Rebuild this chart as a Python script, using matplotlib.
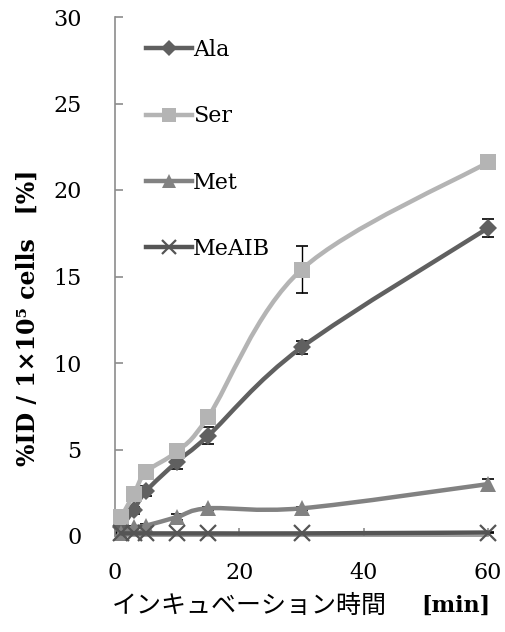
import matplotlib
matplotlib.use("Agg")
import matplotlib.pyplot as plt
from matplotlib.path import Path
from matplotlib.patches import PathPatch
from matplotlib.lines import Line2D
import numpy as np

# incubation time [min]
times = [1, 3, 5, 10, 15, 30, 60]

ala = [0.5, 1.5, 2.6, 4.3, 5.8, 10.9, 17.8]
ala_err = [0.1, 0.2, 0.3, 0.45, 0.5, 0.4, 0.5]
ser = [1.1, 2.4, 3.7, 4.9, 6.9, 15.4, 21.6]
ser_err = [0.1, 0.2, 0.2, 0.3, 0.3, 1.35, 0.3]
met = [0.2, 0.5, 0.6, 1.1, 1.6, 1.6, 3.0]
met_err = [0.05, 0.05, 0.1, 0.2, 0.1, 0.1, 0.3]
meaib = [0.15, 0.15, 0.15, 0.15, 0.15, 0.15, 0.2]
meaib_err = [0.02, 0.02, 0.02, 0.02, 0.02, 0.02, 0.03]

labels = ["Ala", "Ser", "Met", "MeAIB"]
colors = ["#606060", "#b4b4b4", "#828282", "#555555"]
markers = ["D", "s", "^", "x"]
msizes = [9, 11, 11, 11]

SERIF = ["DejaVu Serif", "Noto Sans CJK JP"]
plt.rcParams["font.family"] = SERIF
plt.rcParams["xtick.direction"] = "in"
plt.rcParams["ytick.direction"] = "in"
plt.rcParams["xtick.major.pad"] = 19
plt.rcParams["ytick.major.pad"] = 24


def smooth_path(xs, ys):
    # excel-like smoothed line: bezier segments with catmull-rom controls
    pts = np.column_stack([xs, ys]).astype(float)
    n = len(pts)
    verts = [pts[0]]
    codes = [Path.MOVETO]
    for i in range(n - 1):
        p0 = pts[i - 1] if i > 0 else pts[i]
        p1 = pts[i]
        p2 = pts[i + 1]
        p3 = pts[i + 2] if i + 2 < n else pts[i + 1]
        c1 = p1 + (p2 - p0) / 6.0
        c2 = p2 - (p3 - p1) / 6.0
        verts += [c1, c2, p2]
        codes += [Path.CURVE4] * 3
    return Path(verts, codes)


fig = plt.figure(figsize=(5.05, 6.32), dpi=100)
ax = fig.add_axes([115 / 505, 1 - 536 / 632, 373 / 505, 519 / 632])

series = [(ala, ala_err), (ser, ser_err), (met, met_err), (meaib, meaib_err)]
handles = []
for k, (vals, errs) in enumerate(series):
    z = 3 + k
    ax.errorbar(times, vals, yerr=errs, fmt="none", ecolor="black",
                elinewidth=1.0, capsize=4, capthick=1.2, zorder=2, clip_on=False)
    patch = PathPatch(smooth_path(times, vals), facecolor="none",
                      edgecolor=colors[k], lw=3.2, zorder=z, clip_on=False,
                      capstyle="round", joinstyle="round")
    ax.add_patch(patch)
    if markers[k] == "x":
        ax.plot(times, vals, ls="none", marker="x", ms=msizes[k], mew=1.6,
                color=colors[k], zorder=z, clip_on=False)
    else:
        ax.plot(times, vals, ls="none", marker=markers[k], ms=msizes[k],
                mew=0, color=colors[k], zorder=z, clip_on=False)
    handles.append(Line2D([], [], color=colors[k], lw=3.2, marker=markers[k],
                          ms=msizes[k] - 1, mew=1.6 if markers[k] == "x" else 0))

ax.set_xlim(0, 60)
ax.set_ylim(0, 30)
ax.set_xticks([0, 20, 40, 60])
ax.set_yticks([0, 5, 10, 15, 20, 25, 30])

for side in ["top", "right"]:
    ax.spines[side].set_visible(False)
for side in ["left", "bottom"]:
    ax.spines[side].set_color("#8c8c8c")
    ax.spines[side].set_linewidth(1.2)

ax.tick_params(axis="both", length=6, width=1.2, color="#8c8c8c",
               labelsize=16, labelcolor="black")

# x label: japanese part and unit drawn separately
fig.text(112 / 505, 1 - 606 / 632, "インキュベーション時間", fontsize=18,
         family=["Noto Sans CJK JP"], ha="left", va="center")
fig.text(490 / 505, 1 - 606 / 632, "[min]", fontsize=16, fontweight="bold",
         family=SERIF, ha="right", va="center")

ax.set_ylabel("%ID / 1×10⁵ cells　[%]", fontsize=17, fontweight="bold",
              family=SERIF)
ax.yaxis.set_label_coords(-0.201, 0.42)

leg = ax.legend(handles, labels, loc="upper left", bbox_to_anchor=(0.058, 0.975),
                frameon=False, fontsize=16, handlelength=2.1, handletextpad=0.05,
                labelspacing=2.0, borderaxespad=0)

fig.savefig("out.png", dpi=100, facecolor="white")
